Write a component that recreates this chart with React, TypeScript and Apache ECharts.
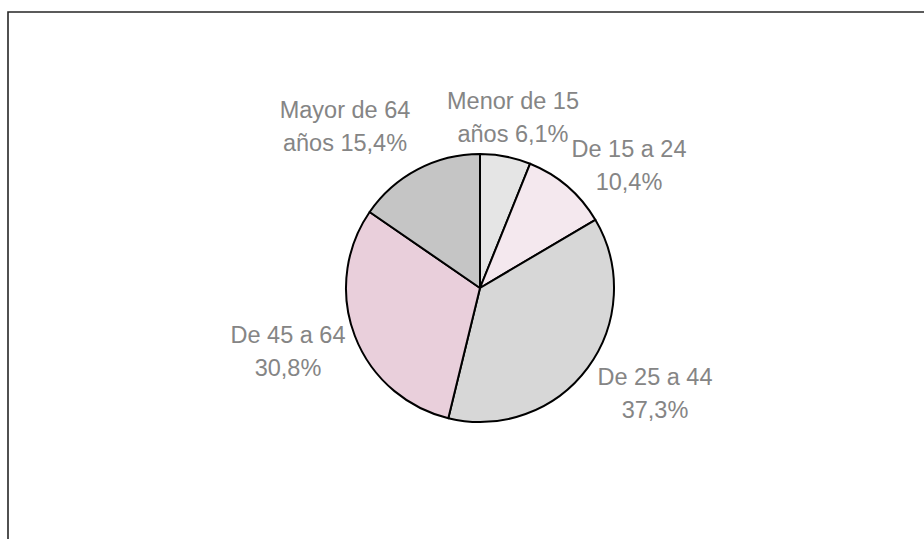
import React, { useEffect, useRef } from "react";
import * as echarts from "echarts";

const categories = ["Menor de 15 años", "De 15 a 24", "De 25 a 44", "De 45 a 64", "Mayor de 64 años"];
const values = [6.1, 10.4, 37.3, 30.8, 15.4];
const sliceColors = ["#e5e5e5", "#f4e8ee", "#d7d7d7", "#e9cfdb", "#c5c5c5"];
// label centres (layout only)
const labelCenters: [number, number][] = [
  [513, 117],
  [629, 165],
  [655, 393],
  [288, 351],
  [345, 126],
];

function fmtLabel(name: string, v: number): string {
  const pct = v.toFixed(1).replace(".", ",") + "%";
  if (name.endsWith(" años")) {
    return name.slice(0, -5) + "\naños " + pct;
  }
  return name + "\n" + pct;
}

export default function App() {
  const ref = useRef<HTMLDivElement>(null);
  useEffect(() => {
    if (!ref.current) return;
    const chart = echarts.init(ref.current, undefined, { renderer: "svg" });
    chart.setOption({
      animation: false,
      backgroundColor: "#ffffff",
      graphic: [
        {
          type: "rect",
          shape: { x: 8, y: 12, width: 1000, height: 700 },
          style: { fill: "none", stroke: "#262626", lineWidth: 1.6 },
          silent: true,
        },
      ],
      series: [
        {
          type: "pie",
          center: [480, 288],
          radius: 134,
          startAngle: 90,
          clockwise: true,
          avoidLabelOverlap: false,
          data: categories.map((c, i) => ({
            name: c,
            value: values[i],
            itemStyle: { color: sliceColors[i] },
          })),
          itemStyle: { borderColor: "#000000", borderWidth: 2 },
          label: {
            show: true,
            position: "outside",
            formatter: (p: any) => fmtLabel(p.name, p.value),
            fontFamily: "Liberation Sans, Arial, sans-serif",
            fontSize: 23.5,
            lineHeight: 33,
            color: "#858585",
            align: "center",
          },
          labelLine: { show: false },
          labelLayout: (p: any) => ({
            x: labelCenters[p.dataIndex][0],
            y: labelCenters[p.dataIndex][1],
            align: "center",
            verticalAlign: "middle",
          }),
          emphasis: { disabled: true },
        },
      ],
    });
    return () => chart.dispose();
  }, []);
  return (
    <div
      ref={ref}
      style={{ position: "fixed", left: 0, top: 0, width: 924, height: 539 }}
    />
  );
}
